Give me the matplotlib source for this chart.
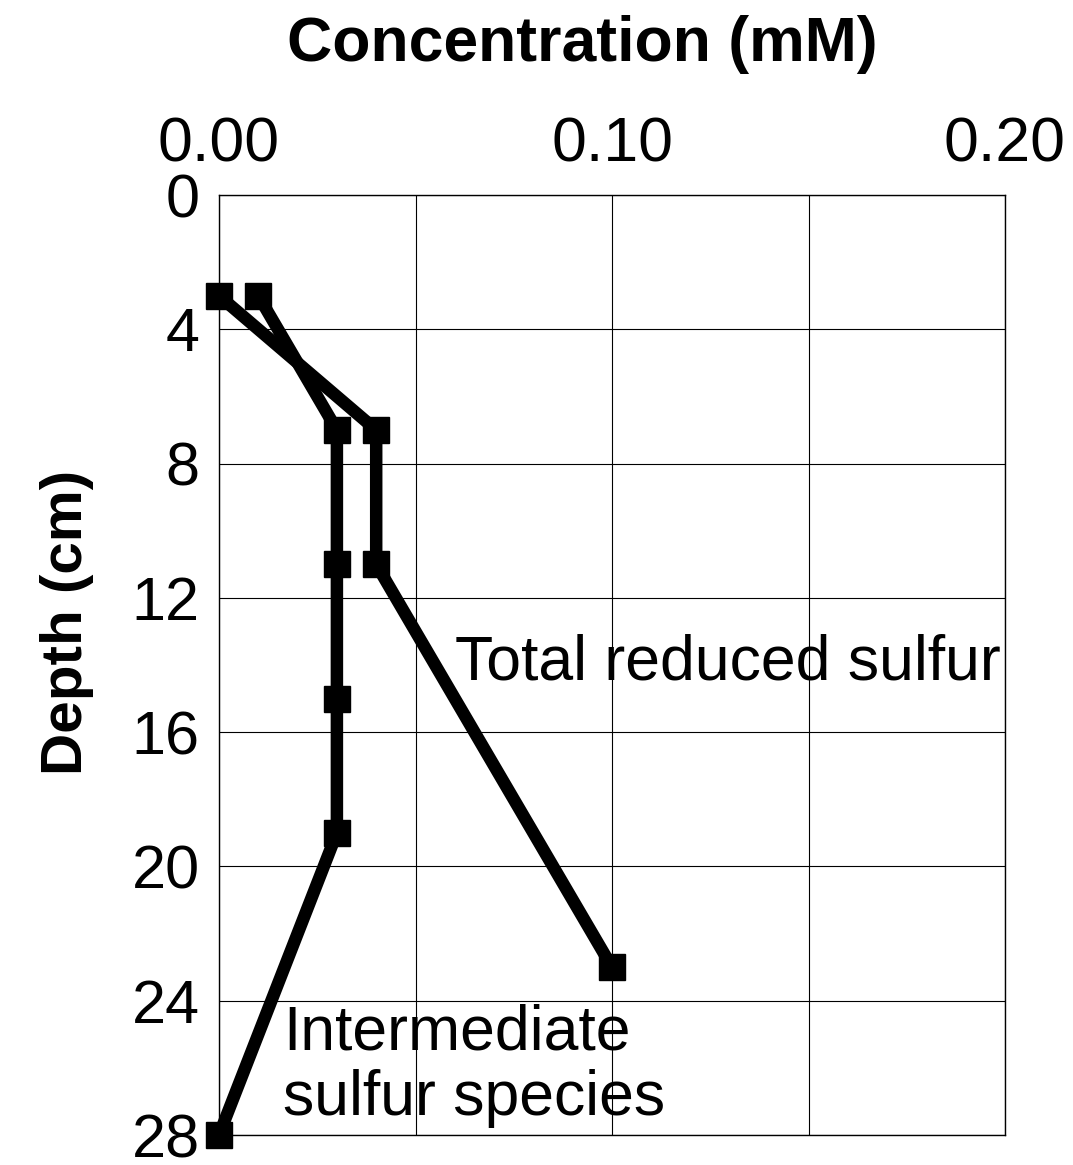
import matplotlib
matplotlib.use("Agg")
import matplotlib.pyplot as plt
from matplotlib.ticker import FixedLocator

plt.rcParams['font.family'] = ['Liberation Sans', 'DejaVu Sans']

# Data
trs_conc = [0.00, 0.04, 0.04, 0.10]
trs_depth = [3, 7, 11, 23]
iss_conc = [0.01, 0.03, 0.03, 0.03, 0.03, 0.00]
iss_depth = [3, 7, 11, 15, 19, 28]
x_major = [0.00, 0.10, 0.20]
x_labels = ["0.00", "0.10", "0.20"]
x_minor = [0.05, 0.15]
y_ticks = [0, 4, 8, 12, 16, 20, 24, 28]

W, H = 1073, 1165
fig = plt.figure(figsize=(W/100, H/100), dpi=100)
ax = fig.add_axes([219/W, 1-1135/H, (1005-219)/W, (1135-195)/H])

ax.set_xlim(0, 0.20)
ax.set_ylim(28, 0)
ax.xaxis.set_major_locator(FixedLocator(x_major))
ax.set_xticklabels(x_labels)
ax.xaxis.set_minor_locator(FixedLocator(x_minor))
ax.set_yticks(y_ticks)
ax.xaxis.tick_top()
ax.tick_params(axis='both', which='both', length=0)
ax.tick_params(axis='x', labelsize=45, pad=15)
ax.tick_params(axis='y', labelsize=44, pad=14)
ax.grid(True, which='both', color='black', linewidth=0.8)
for s in ax.spines.values():
    s.set_linewidth(1.0)

ax.plot(trs_conc, trs_depth, color='black', linewidth=9, marker='s',
        markersize=19, clip_on=False, zorder=5)
ax.plot(iss_conc, iss_depth, color='black', linewidth=9, marker='s',
        markersize=19, clip_on=False, zorder=5)

ax.text(455/W, 1-680/H, "Total reduced sulfur", transform=fig.transFigure,
        fontsize=45, ha='left', va='baseline')
ax.text(283/W, 1-1050/H, "Intermediate", transform=fig.transFigure,
        fontsize=45, ha='left', va='baseline')
ax.text(283/W, 1-1115/H, "sulfur species", transform=fig.transFigure,
        fontsize=45, ha='left', va='baseline')

fig.text(582/W, 1-45/H, "Concentration (mM)", fontsize=45, fontweight='bold',
         ha='center', va='center')
fig.text(67/W, 1-622/H, "Depth (cm)", fontsize=42, fontweight='bold',
         ha='center', va='center', rotation=90)

fig.savefig("out.png", dpi=100)
